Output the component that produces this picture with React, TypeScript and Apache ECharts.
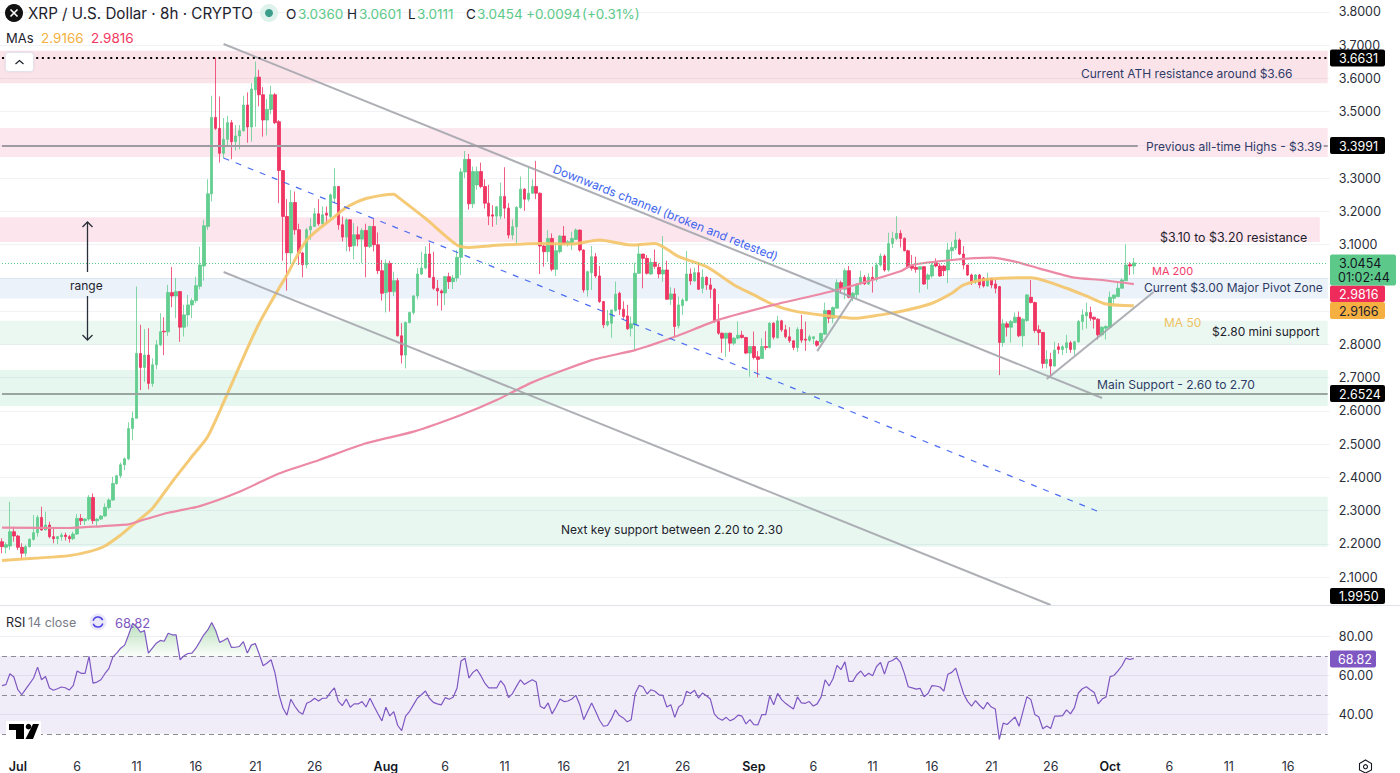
import React, { useEffect, useRef } from "react";
import * as echarts from "echarts";

const FONT = "Inter, 'Noto Sans', sans-serif";

const opens = [
  2.207,2.190,2.194,2.237,2.224,2.190,2.172,2.192,2.214,2.234,
  2.280,2.242,2.257,2.222,2.216,2.222,2.227,2.222,2.216,2.230,
  2.277,2.270,2.275,2.340,2.270,2.275,2.284,2.310,2.332,2.382,
  2.405,2.438,2.456,2.547,2.578,2.773,2.731,2.768,2.683,2.739,
  2.799,2.840,2.838,2.956,2.946,2.959,2.852,2.889,2.919,2.932,
  2.975,3.036,3.155,3.253,3.483,3.450,3.375,3.417,3.467,3.410,
  3.427,3.443,3.520,3.454,3.566,3.604,3.551,3.475,3.507,3.551,
  3.470,3.323,3.185,3.075,3.227,3.145,3.075,3.040,3.145,3.155,
  3.193,3.163,3.195,3.185,3.240,3.275,3.160,3.123,3.175,3.097,
  3.130,3.117,3.143,3.095,3.155,3.100,3.022,2.956,3.044,2.959,
  2.992,2.826,2.768,2.866,2.896,2.946,3.012,3.030,3.072,3.002,
  2.969,2.961,2.955,3.004,2.989,3.000,3.062,3.319,3.357,3.223,
  3.280,3.320,3.275,3.225,3.190,3.186,3.186,3.245,3.210,3.129,
  3.154,3.212,3.267,3.237,3.255,3.275,3.255,3.096,3.079,3.119,
  3.026,3.079,3.126,3.102,3.106,3.116,3.144,3.084,2.964,3.016,
  3.064,3.006,2.929,2.859,2.864,2.902,2.954,2.906,2.886,2.849,
  2.859,3.014,3.072,3.059,3.012,3.047,3.032,3.012,3.024,2.936,
  2.952,2.856,2.917,2.932,3.012,2.991,3.016,2.969,3.002,2.979,
  2.966,2.869,2.834,2.819,2.834,2.804,2.819,2.828,2.821,2.774,
  2.794,2.763,2.758,2.794,2.791,2.864,2.820,2.871,2.844,2.823,
  2.811,2.791,2.845,2.816,2.813,2.818,2.809,2.808,2.831,2.902,
  2.879,2.909,2.986,2.966,3.022,2.942,2.950,2.982,3.002,2.982,
  3.002,2.996,3.039,3.066,3.024,3.104,3.119,3.134,3.119,3.082,
  3.036,3.032,3.026,3.034,2.996,3.006,3.046,3.036,3.036,3.024,
  3.082,3.090,3.114,3.072,3.039,3.009,2.989,3.009,3.000,2.976,
  2.999,2.982,2.974,2.806,2.862,2.852,2.866,2.882,2.826,2.872,
  2.942,2.926,2.844,2.836,2.743,2.755,2.735,2.793,2.785,2.790,
  2.805,2.785,2.808,2.869,2.886,2.896,2.882,2.876,2.829,2.849,
  2.852,2.939,2.944,2.969,2.992,3.040,3.036,
];
const closes = [
  2.192,2.198,2.237,2.224,2.190,2.172,2.192,2.214,2.234,2.280,
  2.242,2.257,2.222,2.216,2.222,2.227,2.222,2.216,2.230,2.277,
  2.270,2.275,2.340,2.270,2.275,2.284,2.310,2.332,2.382,2.405,
  2.438,2.456,2.547,2.578,2.773,2.731,2.768,2.683,2.739,2.799,
  2.838,2.838,2.956,2.946,2.959,2.852,2.889,2.919,2.932,2.977,
  3.039,3.157,3.253,3.483,3.450,3.375,3.417,3.467,3.410,3.427,
  3.443,3.520,3.454,3.568,3.604,3.551,3.475,3.507,3.551,3.467,
  3.323,3.185,3.076,3.227,3.145,3.075,3.040,3.145,3.155,3.193,
  3.163,3.190,3.189,3.250,3.275,3.160,3.123,3.175,3.095,3.130,
  3.117,3.143,3.095,3.155,3.100,3.022,2.954,3.044,2.959,2.992,
  2.826,2.768,2.866,2.896,2.946,3.012,3.030,3.072,3.002,2.969,
  2.961,2.955,3.004,2.989,3.000,3.062,3.319,3.357,3.223,3.320,
  3.320,3.275,3.225,3.186,3.186,3.214,3.245,3.210,3.129,3.154,
  3.212,3.267,3.237,3.255,3.275,3.255,3.096,3.079,3.119,3.026,
  3.082,3.126,3.104,3.109,3.119,3.144,3.084,2.964,3.019,3.064,
  3.006,2.929,2.859,2.869,2.904,2.951,2.906,2.884,2.847,2.862,
  3.014,3.072,3.059,3.014,3.047,3.035,3.012,3.024,2.936,2.952,
  2.854,2.919,2.934,3.012,2.991,3.016,2.966,3.002,2.979,2.966,
  2.869,2.834,2.819,2.834,2.804,2.819,2.828,2.821,2.774,2.794,
  2.761,2.755,2.794,2.791,2.864,2.822,2.871,2.844,2.823,2.811,
  2.791,2.845,2.813,2.813,2.823,2.823,2.798,2.833,2.902,2.879,
  2.911,2.986,2.969,3.022,2.942,2.954,2.979,3.002,2.982,3.002,
  2.994,3.039,3.066,3.024,3.104,3.119,3.134,3.119,3.082,3.032,
  3.029,3.026,3.034,2.982,3.009,3.039,3.036,3.006,3.022,3.084,
  3.092,3.114,3.072,3.039,3.009,2.989,3.009,2.979,2.976,2.999,
  2.979,2.969,2.806,2.862,2.852,2.869,2.882,2.826,2.876,2.949,
  2.926,2.842,2.836,2.743,2.755,2.735,2.783,2.785,2.793,2.805,
  2.785,2.808,2.869,2.889,2.896,2.879,2.876,2.829,2.852,2.854,
  2.942,2.949,2.969,2.994,3.039,3.036,3.0454,
];
const highs = [
  2.217,2.205,2.327,2.252,2.227,2.202,2.197,2.217,2.287,2.287,
  2.312,2.297,2.267,2.247,2.224,2.234,2.234,2.227,2.237,2.290,
  2.290,2.277,2.347,2.352,2.277,2.287,2.322,2.337,2.402,2.408,
  2.445,2.460,2.566,2.598,2.974,2.859,2.846,2.849,2.758,2.813,
  2.894,2.882,2.979,3.033,3.000,2.961,2.919,2.949,2.939,3.004,
  3.094,3.175,3.297,3.548,3.663,3.546,3.481,3.488,3.475,3.460,
  3.460,3.548,3.558,3.586,3.651,3.626,3.574,3.538,3.578,3.556,
  3.475,3.325,3.237,3.265,3.260,3.163,3.079,3.150,3.180,3.210,
  3.237,3.215,3.215,3.254,3.330,3.277,3.185,3.180,3.177,3.165,
  3.155,3.150,3.163,3.157,3.177,3.137,3.054,3.056,3.052,3.019,
  3.000,2.864,2.869,2.899,2.949,3.030,3.079,3.095,3.106,3.079,
  2.994,2.966,3.006,3.016,3.009,3.084,3.330,3.382,3.373,3.335,
  3.335,3.347,3.297,3.280,3.219,3.216,3.287,3.333,3.225,3.176,
  3.216,3.305,3.270,3.333,3.297,3.352,3.257,3.099,3.144,3.134,
  3.104,3.129,3.156,3.114,3.139,3.149,3.146,3.086,3.022,3.096,
  3.075,3.036,2.931,2.904,2.904,2.989,2.959,2.930,2.919,2.884,
  3.046,3.102,3.072,3.069,3.059,3.086,3.044,3.126,3.052,2.972,
  2.969,2.944,2.939,3.081,3.029,3.031,3.046,3.026,3.005,3.000,
  2.970,2.922,2.836,2.834,2.836,2.822,2.869,2.841,2.823,2.794,
  2.839,2.780,2.819,2.840,2.867,2.867,2.886,2.874,2.859,2.852,
  2.813,2.852,2.889,2.869,2.829,2.824,2.813,2.836,2.926,2.904,
  2.914,2.996,2.992,3.029,3.036,2.958,2.985,3.022,3.009,3.014,
  3.034,3.046,3.074,3.071,3.136,3.139,3.186,3.144,3.122,3.085,
  3.069,3.064,3.034,3.036,3.014,3.046,3.059,3.044,3.039,3.106,
  3.109,3.139,3.119,3.096,3.039,3.013,3.012,3.012,3.003,3.016,
  3.000,2.996,2.976,2.876,2.869,2.874,2.896,2.899,2.879,2.952,
  2.994,2.929,2.858,2.838,2.783,2.775,2.808,2.804,2.798,2.829,
  2.811,2.811,2.874,2.906,2.926,2.914,2.884,2.879,2.854,2.858,
  2.959,2.949,2.989,2.999,3.101,3.048,3.0601,
];
const lows = [
  2.172,2.172,2.182,2.207,2.182,2.152,2.162,2.190,2.210,2.222,
  2.240,2.242,2.217,2.202,2.200,2.210,2.210,2.204,2.212,2.227,
  2.257,2.257,2.270,2.260,2.252,2.272,2.282,2.304,2.330,2.378,
  2.398,2.422,2.452,2.512,2.578,2.663,2.688,2.665,2.673,2.725,
  2.795,2.768,2.826,2.912,2.879,2.808,2.824,2.854,2.879,2.924,
  2.966,2.992,3.145,3.230,3.445,3.347,3.360,3.400,3.357,3.383,
  3.387,3.440,3.407,3.410,3.455,3.516,3.425,3.429,3.493,3.463,
  3.225,3.052,2.962,3.044,3.130,3.039,3.002,3.029,3.115,3.155,
  3.157,3.160,3.165,3.180,3.225,3.145,3.110,3.080,3.080,3.056,
  3.095,3.044,3.002,3.090,3.080,3.012,2.932,2.896,2.899,2.946,
  2.824,2.743,2.728,2.863,2.890,2.936,3.009,3.026,3.000,2.964,
  2.917,2.902,2.919,2.967,2.967,2.989,3.009,3.300,3.206,3.210,
  3.265,3.270,3.209,3.159,3.154,3.160,3.176,3.179,3.119,3.116,
  3.104,3.208,3.202,3.230,3.253,3.237,3.012,3.034,3.049,3.020,
  3.006,3.074,3.099,3.094,3.084,3.114,3.079,2.956,2.944,2.964,
  3.000,2.925,2.849,2.854,2.820,2.899,2.889,2.874,2.844,2.824,
  2.783,3.012,2.969,3.010,3.009,3.028,2.999,2.989,2.934,2.919,
  2.824,2.848,2.889,2.929,2.979,2.989,2.964,2.954,2.964,2.939,
  2.865,2.829,2.775,2.763,2.778,2.798,2.815,2.818,2.771,2.703,
  2.755,2.701,2.758,2.783,2.788,2.815,2.818,2.838,2.818,2.805,
  2.783,2.778,2.805,2.781,2.808,2.801,2.793,2.805,2.829,2.864,
  2.864,2.909,2.954,2.936,2.939,2.930,2.939,2.979,2.979,2.979,
  2.956,2.989,3.034,3.019,3.019,3.090,3.114,3.092,3.080,3.029,
  3.022,3.016,2.956,2.979,2.966,3.000,3.032,3.004,3.006,2.984,
  3.054,3.084,3.069,3.026,3.006,2.979,2.982,2.969,2.971,2.974,
  2.969,2.954,2.708,2.793,2.824,2.806,2.864,2.822,2.793,2.868,
  2.924,2.835,2.798,2.728,2.728,2.700,2.733,2.772,2.768,2.774,
  2.775,2.768,2.805,2.844,2.848,2.871,2.848,2.815,2.824,2.815,
  2.848,2.919,2.944,2.969,2.991,3.009,3.0111,
];

const ma50Index = [0,8,17,22,26,30,33,38,43,48,52,57,62,65,70,72,77,84,87,92,99,100,107,115,118,126,136,144,151,159,165,171,178,185,190,195,200,207,216,222,227,235,240,243,249,260,269,274,279,286];
const ma50Values = [2.150,2.157,2.165,2.177,2.194,2.227,2.257,2.307,2.387,2.463,2.523,2.653,2.788,2.864,2.969,3.009,3.114,3.184,3.212,3.239,3.252,3.244,3.179,3.099,3.092,3.099,3.104,3.102,3.114,3.099,3.104,3.064,3.034,2.979,2.949,2.919,2.901,2.889,2.879,2.889,2.899,2.924,2.954,2.979,2.996,3.001,2.969,2.946,2.922,2.9166];
const ma200Index = [0,17,23,32,35,42,50,60,70,80,92,104,116,125,134,149,160,170,181,195,211,227,230,240,250,256,262,271,278,286];
const ma200Values = [2.249,2.248,2.252,2.259,2.270,2.294,2.314,2.357,2.412,2.452,2.503,2.538,2.588,2.633,2.686,2.753,2.783,2.823,2.874,2.919,2.964,3.020,3.039,3.054,3.061,3.049,3.029,3.001,2.994,2.9816];

const rsiValues = [
  54.8,55.3,60.9,59.2,52.7,50.1,53.0,55.8,58.7,64.3,57.8,59.5,53.6,52.4,53.2,54.1,53.7,52.5,54.8,62.3,61.1,61.1,69.8,56.1,56.6,57.8,60.9,63.5,69.4,
  71.5,74.0,75.6,80.9,86.8,85.1,82.2,83.1,71.5,74.0,76.6,78.0,77.6,81.7,80.9,80.9,68.1,70.1,71.3,71.5,74.0,77.4,80.9,83.4,87.2,83.1,77.0,78.0,79.3,74.4,
  74.5,74.9,77.4,71.5,75.6,76.4,71.0,65.0,66.4,68.1,61.2,50.1,43.3,39.6,47.8,44.2,41.4,40.1,45.7,46.6,48.3,46.9,48.3,48.4,51.3,53.6,46.7,44.5,47.9,43.7,
  45.4,45.4,46.6,43.8,48.3,44.2,40.3,36.7,43.7,39.2,41.4,34.3,31.7,39.1,41.6,45.0,48.4,50.1,52.0,48.3,46.2,45.4,44.9,48.6,47.8,48.8,53.6,67.5,68.9,58.7,
  61.6,63.1,59.9,56.1,53.6,53.6,53.6,57.3,54.8,48.6,50.7,54.4,57.8,55.4,56.6,57.8,56.6,44.2,43.0,45.9,40.3,43.8,47.9,46.6,46.9,47.9,49.8,45.0,37.3,41.6,
  45.9,41.6,37.0,33.9,34.3,37.7,42.3,39.4,38.2,36.2,37.3,50.7,54.9,54.1,50.5,52.7,51.9,50.1,49.8,43.8,45.0,38.5,43.8,45.4,51.9,50.7,52.4,48.4,
  51.0,49.6,47.9,40.3,38.0,37.0,38.5,36.7,37.7,39.6,39.1,35.1,37.3,34.8,34.6,39.9,39.9,49.5,45.0,50.8,47.6,45.7,44.2,42.8,49.0,45.9,45.7,46.6,44.3,45.4,
  49.0,57.8,54.6,58.3,65.2,63.0,67.0,57.0,57.0,60.4,62.3,59.5,61.1,59.9,64.6,66.7,60.7,66.9,67.7,69.1,66.9,61.2,54.2,53.6,53.0,53.4,49.1,50.7,54.8,54.6,
  54.1,52.0,60.6,61.6,63.8,57.0,50.5,46.7,44.2,47.1,44.7,42.8,46.2,43.8,42.8,27.1,35.5,34.8,36.8,38.7,33.9,41.6,49.1,47.6,39.9,38.7,32.6,34.1,32.7,39.1,
  39.1,39.4,42.3,40.3,43.5,51.0,53.2,54.2,52.7,51.3,45.4,47.9,49.0,59.4,60.0,62.4,65.0,68.9,68.2,68.82,
];

const axisTickIndex = [4,19,34,49,64,79,97,112,127,142,157,172,190,205,220,235,250,265,280,295,310,325];
const axisTickLabel = ["Jul","6","11","16","21","26","Aug","6","11","16","21","26","Sep","6","11","16","21","26","Oct","6","11","16"];
const monthLabels = ["Jul","Aug","Sep","Oct"];
const SLOT_COUNT = 336;
const LAST_SLOT = 335;

const priceGrid = [2.1,2.2,2.3,2.4,2.5,2.6,2.7,2.8,2.9,3.0,3.1,3.2,3.3,3.4,3.5,3.6,3.7,3.8];
const priceTickLabels = [2.1,2.2,2.3,2.4,2.5,2.6,2.7,2.8,3.1,3.2,3.3,3.5,3.6,3.7,3.8];
const rsiTicks = [40,60,80];
const rsiBands = [30,50,70];

const priceZones: [number, number, string, number][] = [
  [3.683, 3.586, "rgba(225,70,115,0.15)", 335],
  [3.451, 3.364, "rgba(240,70,130,0.13)", 335],
  [3.183, 3.108, "rgba(240,70,130,0.14)", 333],
  [3.000, 2.938, "rgba(70,140,200,0.11)", 335],
  [2.871, 2.800, "rgba(60,190,130,0.10)", 335],
  [2.723, 2.615, "rgba(50,190,130,0.12)", 335],
  [2.342, 2.192, "rgba(50,190,130,0.11)", 335],
];

// [startIndex, startPrice, endIndex, endPrice]
const channelUpper = [56, 3.7038, 278, 2.639];
const channelLower = [56, 3.018, 265, 2.0165];
const channelMid = [56, 3.361, 278, 2.293];
const risingOne = [206, 2.780, 215, 2.943];
const risingTwo = [264, 2.696, 291, 2.958];

const ATH_LEVEL = 3.6631;
const PREV_HIGH_LEVEL = 3.3991;
const SUPPORT_LEVEL = 2.6524;
const LAST_PRICE = 3.0454;

const annotations: [string, number, number, string, number][] = [
  ["Current ATH resistance around $3.66", 1081, 73, "#2f3b66", 12],
  ["Previous all-time Highs - $3.39", 1146, 146, "#2f3b66", 12],
  ["$3.10 to $3.20 resistance", 1160, 237, "#1e222d", 12.4],
  ["MA 200", 1152, 271, "#f23a6b", 11],
  ["Current $3.00 Major Pivot Zone", 1144, 287, "#2f3b66", 12],
  ["MA 50", 1164, 322, "#eec264", 12],
  ["$2.80 mini support", 1212, 331, "#1e222d", 12],
  ["Main Support - 2.60 to 2.70", 1097, 384, "#2f3b66", 12.1],
  ["Next key support between 2.20 to 2.30", 561, 529, "#1e222d", 12],
  ["range", 70, 285, "#1e222d", 12],
];

const ohlcParts: [string, number, string][] = [
  ["O", 286, "#1e222d"], ["3.0360", 298, "#5cc98a"],
  ["H", 347, "#1e222d"], ["3.0601", 359, "#5cc98a"],
  ["L", 408, "#1e222d"], ["3.0111", 417, "#5cc98a"],
  ["C", 466, "#1e222d"], ["3.0454", 477, "#5cc98a"],
  ["+0.0094", 526, "#5cc98a"], ["(+0.31%)", 582, "#5cc98a"],
];

// label, x, y, width, height, fill, text colour
const priceTags: [string, number, number, number, number, string, string][] = [
  ["3.6631", 1330, 49.5, 55, 17, "#000000", "#ffffff"],
  ["3.3991", 1330, 137, 55, 17, "#000000", "#ffffff"],
  ["2.9816", 1330, 285.5, 55, 16.5, "#ee2b5b", "#ffffff"],
  ["2.9166", 1330, 302, 55, 17, "#f5b041", "#1e222d"],
  ["2.6524", 1330, 385, 55, 17, "#000000", "#ffffff"],
  ["1.9950", 1330, 588, 55, 16, "#000000", "#ffffff"],
];

function levelLine(level: number, lineStyle: any, from = 0, to = LAST_SLOT) {
  return [{ coord: [from, level], lineStyle }, { coord: [to, level] }];
}
function trendLine(c: number[], lineStyle: any) {
  return [{ coord: [c[0], c[1]], lineStyle }, { coord: [c[2], c[3]] }];
}

function txt(text: string, x: number, y: number, fill: string, fontSize = 12.5, extra: any = {}) {
  return {
    type: "text", x, y, z: 50, silent: true,
    style: { text, fill, fontSize, fontFamily: FONT, textAlign: "left", textVerticalAlign: "middle", ...extra },
  };
}

export default function App() {
  const ref = useRef<HTMLDivElement>(null);
  useEffect(() => {
    const chart = echarts.init(ref.current!, undefined, { renderer: "svg" });
    const categories: string[] = [];
    for (let i = 0; i < SLOT_COUNT; i++) {
      const k = axisTickIndex.indexOf(i);
      categories.push(k >= 0 ? axisTickLabel[k] : "");
    }
    const candleData = closes.map((c, i) => [opens[i], c, lows[i], highs[i]]);
    const grayLine = { color: "#a4a6ad", width: 2, type: "solid", opacity: 0.9 };
    const blueDash = { color: "#4064f0", width: 1.2, type: [6, 7], opacity: 0.95 };

    const graphic: any[] = [];
    graphic.push({ type: "line", z: 40, shape: { x1: 0, y1: 605.5, x2: 1400, y2: 605.5 }, style: { stroke: "#e0e3eb", lineWidth: 1 } });
    graphic.push({ type: "circle", z: 50, shape: { cx: 14, cy: 13, r: 9 }, style: { fill: "#111111" } });
    graphic.push({ type: "line", z: 51, shape: { x1: 10.5, y1: 9.5, x2: 17.5, y2: 16.5 }, style: { stroke: "#fff", lineWidth: 1.6 } });
    graphic.push({ type: "line", z: 51, shape: { x1: 17.5, y1: 9.5, x2: 10.5, y2: 16.5 }, style: { stroke: "#fff", lineWidth: 1.6 } });
    graphic.push(txt("XRP / U.S. Dollar · 8h · CRYPTO", 28, 13.5, "#1e222d", 15.2));
    graphic.push({ type: "circle", z: 50, shape: { cx: 269, cy: 13, r: 9 }, style: { fill: "#dff2ec" } });
    graphic.push({ type: "circle", z: 51, shape: { cx: 269, cy: 13, r: 4 }, style: { fill: "#3c9d8b" } });
    ohlcParts.forEach(([t, x, c]) => graphic.push(txt(t, x, 13.5, c, 13.5)));
    graphic.push(txt("MAs", 6, 37.5, "#1e222d", 13));
    graphic.push(txt("2.9166", 41, 37.5, "#f5b041", 13.5));
    graphic.push(txt("2.9816", 91, 37.5, "#f2375f", 13.5));
    graphic.push({ type: "rect", z: 50, shape: { x: 5.5, y: 52.5, width: 28, height: 19, r: 3 }, style: { fill: "#ffffff", stroke: "#e0e3eb", lineWidth: 1, shadowBlur: 2, shadowColor: "rgba(0,0,0,.08)" } });
    graphic.push({ type: "polyline", z: 51, shape: { points: [[15.5, 64], [19.5, 60.5], [23.5, 64]] }, style: { stroke: "#1e222d", fill: "none", lineWidth: 1.2 } });
    annotations.forEach(([t, x, y, c, s]) => graphic.push(txt(t, x, y, c, s)));
    const channelLabel: any = txt("Downwards channel (broken and retested)", 665.5, 212.5, "#3f66ee", 12, { textAlign: "center" });
    channelLabel.rotation = -0.378;
    graphic.push(channelLabel);
    graphic.push({ type: "line", z: 45, shape: { x1: 87.5, y1: 222, x2: 87.5, y2: 272 }, style: { stroke: "#2a2e39", lineWidth: 1.3 } });
    graphic.push({ type: "polyline", z: 45, shape: { points: [[82.5, 227], [87.5, 222], [92.5, 227]] }, style: { stroke: "#2a2e39", fill: "none", lineWidth: 1.3 } });
    graphic.push({ type: "line", z: 45, shape: { x1: 87.5, y1: 296, x2: 87.5, y2: 340 }, style: { stroke: "#2a2e39", lineWidth: 1.3 } });
    graphic.push({ type: "polyline", z: 45, shape: { points: [[82.5, 335], [87.5, 340], [92.5, 335]] }, style: { stroke: "#2a2e39", fill: "none", lineWidth: 1.3 } });
    priceTags.forEach(([t, x, y, w, h, f, c]) => {
      graphic.push({ type: "rect", z: 60, shape: { x, y, width: w, height: h, r: 2 }, style: { fill: f } });
      graphic.push({ ...txt(t, x + 9, y + h / 2 + 0.5, c, 12.5), z: 61 });
    });
    graphic.push({ type: "rect", z: 60, shape: { x: 1330, y: 254.5, width: 66, height: 31, r: 2 }, style: { fill: "#5cc98a" } });
    graphic.push({ ...txt("3.0454", 1339, 263, "#131722", 12.5), z: 61 });
    graphic.push({ ...txt("01:02:44", 1338, 277, "#131722", 12.5), z: 61 });
    graphic.push({ type: "rect", z: 60, shape: { x: 1330, y: 650.5, width: 46, height: 17, r: 2 }, style: { fill: "#7e57c2" } });
    graphic.push({ ...txt("68.82", 1338, 659.5, "#ffffff", 12.5), z: 61 });
    graphic.push(txt("RSI", 6, 622.5, "#1e222d", 12.5));
    graphic.push(txt("14 close", 28, 622.5, "#787b86", 12.5));
    graphic.push({ type: "circle", z: 50, shape: { cx: 98, cy: 622, r: 8.5 }, style: { fill: "#ebe8f7" } });
    graphic.push({ type: "arc", z: 51, shape: { cx: 98, cy: 622, r: 5, startAngle: 0.3, endAngle: 2.8, clockwise: true }, style: { stroke: "#5046e5", fill: "none", lineWidth: 1.6 } });
    graphic.push({ type: "arc", z: 51, shape: { cx: 98, cy: 622, r: 5, startAngle: 3.4, endAngle: 5.9, clockwise: true }, style: { stroke: "#5046e5", fill: "none", lineWidth: 1.6 } });
    graphic.push(txt("68.82", 115, 622.5, "#7e57c2", 13));
    graphic.push({ type: "rect", z: 50, shape: { x: 6, y: 721, width: 35, height: 20 }, style: { fill: "#ffffff" } });
    graphic.push({ type: "polygon", z: 51, shape: { points: [[9, 724], [24, 724], [24, 739], [16, 739], [16, 730], [9, 730]] }, style: { fill: "#000000" } });
    graphic.push({ type: "circle", z: 51, shape: { cx: 28.5, cy: 726.7, r: 2.8 }, style: { fill: "#000000" } });
    graphic.push({ type: "polygon", z: 51, shape: { points: [[33, 724], [39, 724], [33, 739], [25.5, 739]] }, style: { fill: "#000000" } });
    graphic.push({ type: "polygon", z: 51, shape: { points: [[1365.5, 760], [1371.5, 763.5], [1371.5, 770], [1365.5, 773], [1359.5, 770], [1359.5, 763.5]] }, style: { fill: "none", stroke: "#131722", lineWidth: 1.1 } });
    graphic.push({ type: "circle", z: 51, shape: { cx: 1365.5, cy: 766.7, r: 2 }, style: { fill: "none", stroke: "#131722", lineWidth: 1.1 } });

    const option: any = {
      animation: false,
      backgroundColor: "#ffffff",
      textStyle: { fontFamily: FONT },
      grid: [
        { left: -1.3, top: 0, width: 1331, height: 605 },
        { left: -1.3, top: 606, width: 1331, height: 146 },
      ],
      xAxis: [
        { type: "category", gridIndex: 0, data: categories, boundaryGap: true,
          axisLine: { show: false }, axisTick: { show: false }, axisLabel: { show: false }, splitLine: { show: false } },
        { type: "category", gridIndex: 1, data: categories, boundaryGap: true,
          axisLine: { show: false }, axisTick: { show: false }, splitLine: { show: false },
          axisLabel: {
            interval: (_: number, v: string) => v !== "",
            margin: 9, color: "#2a2e39", fontSize: 12.5, fontFamily: FONT,
            formatter: (v: string) => (monthLabels.includes(v) ? `{m|${v}}` : v),
            rich: { m: { fontWeight: 600, fontSize: 12.5, color: "#131722", fontFamily: FONT } },
          } },
      ],
      yAxis: [
        { type: "value", gridIndex: 0, position: "right", min: 2.0165, max: 3.836, scale: true,
          axisLine: { show: false }, axisTick: { show: false, customValues: priceGrid },
          splitLine: { show: true, customValues: priceGrid, lineStyle: { color: "#f0f2f6", width: 1 } },
          axisLabel: { customValues: priceTickLabels, margin: 9, color: "#2a2e39", fontSize: 12.5, fontFamily: FONT, formatter: (v: number) => v.toFixed(4) } },
        { type: "value", gridIndex: 1, position: "right", min: 21.2, max: 95.7, scale: true,
          axisLine: { show: false }, axisTick: { show: false, customValues: rsiTicks },
          splitLine: { show: true, customValues: rsiTicks, lineStyle: { color: "#eeeef4", width: 1 } },
          axisLabel: { customValues: rsiTicks, margin: 9, color: "#2a2e39", fontSize: 12.5, fontFamily: FONT, formatter: (v: number) => v.toFixed(2) } },
      ],
      series: [
        {
          type: "line", name: "marks", xAxisIndex: 0, yAxisIndex: 0, data: [], silent: true, z: 1,
          markArea: {
            silent: true, z: 1,
            data: priceZones.map(([a, b, col, end]) => [
              { yAxis: a, itemStyle: { color: col } },
              { xAxis: end, yAxis: b },
            ]),
          },
          markLine: {
            silent: true, symbol: "none", z: 6, label: { show: false },
            data: [
              trendLine(channelUpper, grayLine),
              trendLine(channelLower, grayLine),
              trendLine(channelMid, blueDash),
              trendLine(risingOne, grayLine),
              trendLine(risingTwo, grayLine),
              levelLine(PREV_HIGH_LEVEL, { color: "#9f9aa2", width: 2, type: "solid" }, 0, 287),
              levelLine(PREV_HIGH_LEVEL, { color: "#9f9aa2", width: 2, type: "solid" }, 334, LAST_SLOT),
              levelLine(SUPPORT_LEVEL, { color: "#9aa5a0", width: 2, type: "solid" }),
              levelLine(ATH_LEVEL, { color: "#000000", width: 2, type: [2, 3.7] }),
              levelLine(LAST_PRICE, { color: "#5cc98a", width: 1, type: [1, 2] }),
            ],
          },
        },
        {
          type: "candlestick", name: "XRP", xAxisIndex: 0, yAxisIndex: 0, z: 3, barWidth: 3, data: candleData,
          itemStyle: { color: "#5ccb8a", color0: "#ee2b5b", borderColor: "#5ccb8a", borderColor0: "#ee2b5b", borderWidth: 0.8, opacity: 0.95 },
        },
        {
          type: "line", name: "MA 50", xAxisIndex: 0, yAxisIndex: 0, z: 4, smooth: 0.25, showSymbol: false, symbol: "none",
          data: ma50Index.map((x, i) => [x, ma50Values[i]]),
          lineStyle: { color: "#f4c468", width: 3, opacity: 0.9 },
        },
        {
          type: "line", name: "MA 200", xAxisIndex: 0, yAxisIndex: 0, z: 4, smooth: 0.2, showSymbol: false, symbol: "none",
          data: ma200Index.map((x, i) => [x, ma200Values[i]]),
          lineStyle: { color: "#ec8aa6", width: 2.2 },
        },
        {
          type: "line", name: "RSI zone", xAxisIndex: 1, yAxisIndex: 1, z: 1, data: [], silent: true,
          markArea: { silent: true, z: 1, data: [[{ yAxis: 70, itemStyle: { color: "rgba(126,87,194,0.11)" } }, { xAxis: LAST_SLOT, yAxis: 30 }]] },
          markLine: {
            silent: true, symbol: "none", z: 2, label: { show: false },
            data: rsiBands.map((b) => levelLine(b, { color: "#8a8a94", width: 1, type: [5, 4] })),
          },
        },
        {
          type: "line", name: "RSI overbought", xAxisIndex: 1, yAxisIndex: 1, z: 3, showSymbol: false, symbol: "none",
          data: rsiValues.map((v) => (v > 70 ? v : 70)),
          lineStyle: { width: 0 },
          areaStyle: {
            origin: 70,
            color: new echarts.graphic.LinearGradient(0, 0, 0, 1, [
              { offset: 0, color: "rgba(76,175,80,0.55)" },
              { offset: 1, color: "rgba(76,175,80,0.04)" },
            ]),
          },
        },
        {
          type: "line", name: "RSI", xAxisIndex: 1, yAxisIndex: 1, z: 4, showSymbol: false, symbol: "none",
          data: rsiValues,
          lineStyle: { color: "#7e57c2", width: 1.2 },
        },
      ],
      graphic: { elements: graphic },
    };
    chart.setOption(option);
    return () => chart.dispose();
  }, []);
  return <div ref={ref} style={{ position: "fixed", left: 0, top: 0, width: 1400, height: 773, background: "#fff" }} />;
}
